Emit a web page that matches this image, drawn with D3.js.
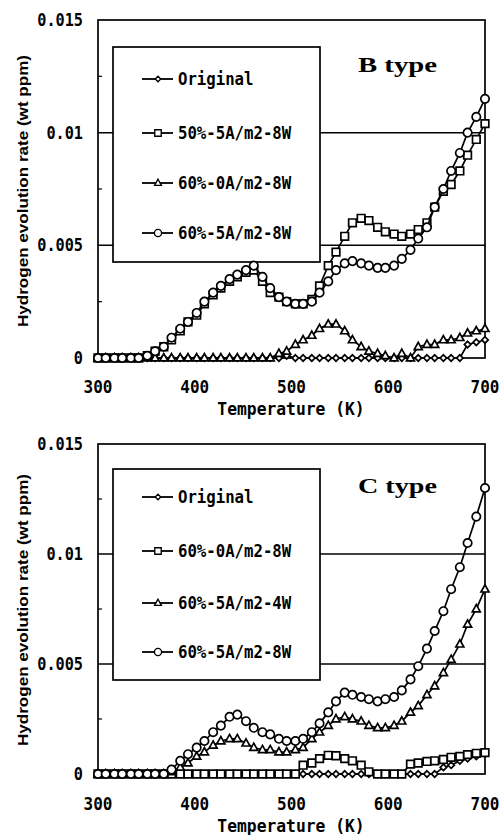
<!DOCTYPE html>
<html><head><meta charset="utf-8">
<script src="https://cdn.jsdelivr.net/npm/d3@7"></script>
<style>
html,body{margin:0;padding:0;background:#fff;}
svg{display:block;}
.mono{font-family:"DejaVu Sans Mono",monospace;font-weight:bold;}
</style></head>
<body>
<svg id="chart" width="501" height="835"></svg>
<script>
// ---------- data ----------
const temps = [300,308,317,325,334,342,351,359,368,376,385,393,402,410,419,427,436,444,453,461,470,478,487,495,504,512,521,529,538,546,555,563,572,580,589,597,606,614,623,631,640,648,657,665,674,682,691,700];

const xTicks = [300,400,500,600,700];
const yTicks = [0,0.005,0.01,0.015];
const yTickLabels = ["0","0.005","0.01","0.015"];
const yMinor = [0.0025,0.0075,0.0125];

// B type
const bNames = ["Original","50%-5A/m2-8W","60%-0A/m2-8W","60%-5A/m2-8W"];
const bOriginal = [0,0,0,0,0,0,0,0,0,0,0,0,0,0,0,0,0,0,0,0,0,0,0,0.0001,0,0,0,0,0,0,0,0,0,0,0,0,0,0,0,0,0,0,0,0,0,0.0006,0.0007,0.0008];
const b50_5_8 = [0,0,0,0,0,0,0.0001,0.0003,0.0005,0.0008,0.0012,0.0016,0.0019,0.0024,0.0028,0.0031,0.0034,0.0036,0.0038,0.0039,0.0034,0.0029,0.0027,0.0025,0.0024,0.0024,0.0026,0.0032,0.0041,0.0047,0.0054,0.0060,0.0062,0.0061,0.0058,0.0056,0.0055,0.0054,0.0055,0.0057,0.0060,0.0067,0.0074,0.0077,0.0083,0.0090,0.0097,0.0104];
const b60_0_8 = [0,0,0,0,0,0,0,0,0,0,0,0,0,0,0,0,0,0,0,0,0,0,0.0002,0.0003,0.0006,0.0008,0.0010,0.0013,0.0015,0.0015,0.0012,0.0008,0.0005,0.0003,0.0002,0.0001,0,0.0002,0,0.0005,0.0006,0.0006,0.0008,0.0008,0.0009,0.0011,0.0012,0.0013];
const b60_5_8 = [0,0,0,0,0,0,0.0001,0.0003,0.0005,0.0009,0.0013,0.0016,0.0020,0.0025,0.0029,0.0032,0.0035,0.0037,0.0039,0.0041,0.0036,0.0031,0.0027,0.0025,0.0024,0.0024,0.0025,0.0029,0.0034,0.0039,0.0042,0.0043,0.0042,0.0041,0.0040,0.0040,0.0041,0.0044,0.0048,0.0053,0.0058,0.0067,0.0075,0.0083,0.0091,0.0100,0.0107,0.0115];

// C type
const cNames = ["Original","60%-0A/m2-8W","60%-5A/m2-4W","60%-5A/m2-8W"];
const cOriginal = [0,0,0,0,0,0,0,0,0,0,0,0,0,0,0,0,0,0,0,0,0,0,0,0,0,0,0,0,0,0,0,0,0,0,0,0,0,0,0,0,0,0,0.0003,0.0004,0.0006,0.0007,0.0008,0.0009];
const c60_0_8 = [0,0,0,0,0,0,0,0,0,0,0,0,0,0,0,0,0,0,0,0,0,0,0,0,0,0.0004,0.0005,0.0007,0.00085,0.00083,0.0007,0.0006,0.0004,0.0001,0,0,0,0,0.00045,0.0005,0.00057,0.0006,0.00066,0.00076,0.0008,0.00088,0.00094,0.00097];
const c60_5_4 = [0,0,0,0,0,0,0,0,0,0.0001,0.0003,0.0005,0.0008,0.0010,0.0013,0.0015,0.0016,0.0016,0.0014,0.0012,0.0011,0.0011,0.0010,0.0010,0.0011,0.0012,0.0016,0.0019,0.0022,0.0025,0.0026,0.0025,0.0024,0.0022,0.0021,0.0021,0.0022,0.0024,0.0028,0.0031,0.0036,0.0040,0.0046,0.0052,0.0059,0.0068,0.0075,0.0084];
const c60_5_8 = [0,0,0,0,0,0,0,0,0,0.0002,0.0006,0.0009,0.0012,0.0015,0.0019,0.0022,0.0026,0.0027,0.0024,0.0021,0.0019,0.0018,0.0016,0.0015,0.0015,0.0016,0.0019,0.0023,0.0028,0.0033,0.0037,0.0036,0.0035,0.0034,0.0033,0.0034,0.0035,0.0038,0.0043,0.0049,0.0057,0.0065,0.0074,0.0084,0.0094,0.0105,0.0117,0.0130];

// ---------- drawing ----------
const svg = d3.select("#chart");

function markerPath(type){
  switch(type){
    case "circle": return "M4.2,0A4.2,4.2 0 1,1 -4.2,0A4.2,4.2 0 1,1 4.2,0Z";
    case "square": return "M-3.8,-3.8H3.8V3.8H-3.8Z";
    case "triangle": return "M0,-4.4L4,2.8H-4Z";
    case "diamond": return "M0,-3.2L3.2,0L0,3.2L-3.2,0Z";
  }
}

const panels = [
  {title:"B type", names:bNames, series:[bOriginal,b50_5_8,b60_0_8,b60_5_8],
   markers:["diamond","square","triangle","circle"],
   yTop:20, yBot:358, legendTop:47, legendBot:262, legendYs:[79,133,183,233],
   titleY:72, xLabY:393, xTitleY:415, yLabC:191},
  {title:"C type", names:cNames, series:[cOriginal,c60_0_8,c60_5_4,c60_5_8],
   markers:["diamond","square","triangle","circle"],
   yTop:444, yBot:774, legendTop:469, legendBot:680, legendYs:[497,551,603,652],
   titleY:493, xLabY:810, xTitleY:832, yLabC:610}
];

const xL = 98, xR = 485;

function monoText(sel, fs){
  // slightly condensed, taller monospace glyphs
  return sel.attr("class","mono").attr("font-size",fs);
}

panels.forEach(p => {
  const g = svg.append("g");
  const x = d3.scaleLinear().domain([300,700]).range([xL,xR]);
  const y = d3.scaleLinear().domain([0,0.015]).range([p.yBot,p.yTop]);

  // gridlines at major y values
  g.selectAll(".grid").data([0.005,0.01]).enter().append("line")
    .attr("x1",xL).attr("x2",xR).attr("y1",d=>y(d)).attr("y2",d=>y(d))
    .attr("stroke","#000").attr("stroke-width",1.5);

  // minor ticks
  g.selectAll(".minor").data(yMinor).enter().append("line")
    .attr("x1",xL).attr("x2",xL+4).attr("y1",d=>y(d)).attr("y2",d=>y(d))
    .attr("stroke","#000").attr("stroke-width",1.2);

  // frame
  g.append("rect").attr("x",xL).attr("y",p.yTop).attr("width",xR-xL).attr("height",p.yBot-p.yTop)
    .attr("fill","none").attr("stroke","#000").attr("stroke-width",1.7);

  // y tick labels
  g.selectAll(".ytl").data(yTicks).enter().append("text")
    .attr("class","mono").attr("font-size",16)
    .attr("transform",d=>`translate(83,${y(d)+6}) scale(0.95,1.12)`)
    .attr("text-anchor","end")
    .text((d,i)=>yTickLabels[i]);

  // x tick labels
  g.selectAll(".xtl").data(xTicks).enter().append("text")
    .attr("class","mono").attr("font-size",16)
    .attr("transform",d=>`translate(${x(d)},${p.xLabY}) scale(1,1.12)`)
    .attr("text-anchor","middle")
    .text(d=>d);

  // x title
  g.append("text").attr("class","mono").attr("font-size",16)
    .attr("transform",`translate(291,${p.xTitleY}) scale(1.02,1.12)`)
    .attr("text-anchor","middle").text("Temperature (K)");

  // y title
  g.append("text").attr("transform",`translate(28,${p.yLabC}) rotate(-90)`)
    .attr("text-anchor","middle").attr("font-family","Liberation Sans, Arial, sans-serif")
    .attr("font-weight","bold").attr("font-size",15.5)
    .attr("textLength",272).attr("lengthAdjust","spacingAndGlyphs")
    .text("Hydrogen evolution rate (wt ppm)");

  // legend box
  g.append("rect").attr("x",113).attr("y",p.legendTop).attr("width",207).attr("height",p.legendBot-p.legendTop)
    .attr("fill","#fff").attr("stroke","#000").attr("stroke-width",1.7);
  p.names.forEach((n,i)=>{
    const ly = p.legendYs[i];
    g.append("line").attr("x1",142).attr("x2",173).attr("y1",ly).attr("y2",ly)
      .attr("stroke","#000").attr("stroke-width",1.8);
    g.append("path").attr("d",markerPath(p.markers[i]))
      .attr("transform",`translate(158,${ly}) scale(0.85)`)
      .attr("fill","#fff").attr("stroke","#000").attr("stroke-width",1.6);
    g.append("text").attr("class","mono").attr("font-size",16)
      .attr("transform",`translate(178,${ly+6}) scale(0.98,1.15)`)
      .text(n);
  });

  // title
  g.append("text").attr("x",358).attr("y",p.titleY)
    .attr("font-family","Liberation Serif, Times New Roman, serif").attr("font-weight","bold")
    .attr("font-size",21).attr("textLength",79).attr("lengthAdjust","spacingAndGlyphs")
    .text(p.title);

  // series
  const line = d3.line().x((d,i)=>x(temps[i])).y(d=>y(d));
  p.series.forEach((s,k)=>{
    const sg = g.append("g");
    sg.append("path").datum(s).attr("d",line).attr("fill","none")
      .attr("stroke","#000").attr("stroke-width",1.7);
    sg.selectAll("path.m").data(s).enter().append("path").attr("class","m")
      .attr("d",markerPath(p.markers[k]))
      .attr("transform",(d,i)=>`translate(${x(temps[i])},${y(d)})`)
      .attr("fill","#fff").attr("stroke","#000").attr("stroke-width",1.7);
  });
});
</script>
</body></html>
